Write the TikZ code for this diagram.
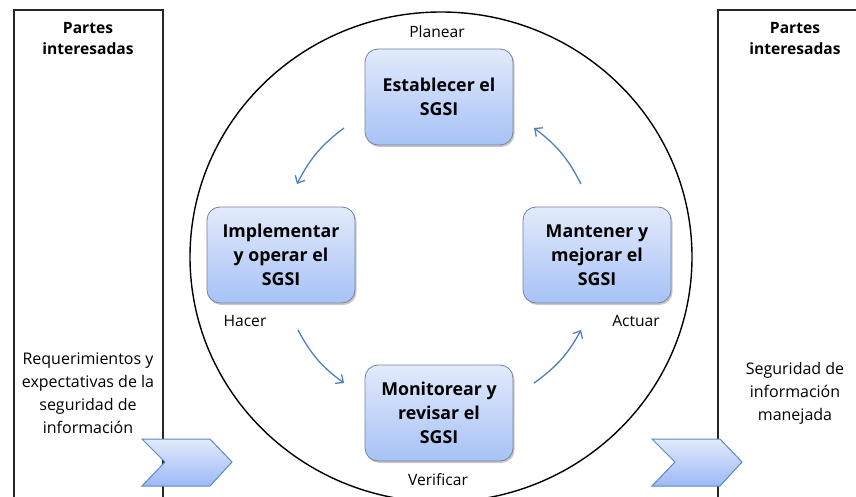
\documentclass[tikz,border=0pt]{standalone}
\usepackage{fontspec}
\setmainfont{Open Sans}
\usetikzlibrary{shadows,arrows.meta}
\definecolor{boxtop}{HTML}{E2EAFC}
\definecolor{boxbot}{HTML}{A6C2F6}
\definecolor{boxline}{HTML}{75849C}
\definecolor{flow}{HTML}{4F81BD}
\definecolor{chevline}{HTML}{5A8AC6}
\tikzset{
  stage/.style={draw=boxline, line width=0.8pt, rounded corners=13pt,
    top color=boxtop, bottom color=boxbot,
    minimum width=148pt, minimum height=96pt, align=center,
    font=\fontsize{17.8}{24}\selectfont\bfseries,
    drop shadow={shadow xshift=1.5pt, shadow yshift=-2pt, opacity=0.35, fill=black!60}},
  phase/.style={font=\fontsize{15.6}{20}\selectfont},
  note/.style={font=\fontsize{16}{23}\selectfont, align=center},
  head/.style={font=\fontsize{15.6}{21}\selectfont\bfseries, align=center},
  panel/.style={draw=black!85, line width=1.2pt},
  cycle/.style={draw=flow, line width=1.3pt, -{Straight Barb[length=6pt,width=11pt]}, bend right=13},
  chevron/.style={draw=chevline, line width=1pt, top color=boxtop, bottom color=boxbot!95!blue}
}
\begin{document}
\begin{tikzpicture}[x=1pt,y=-1pt]
\useasboundingbox (0,0) rectangle (856,497);
\fill[white] (0,0) rectangle (856,497);

% interested parties, left and right
\draw[panel] (14,510) -- (14,10) -- (163,10) -- (163,510);
\draw[panel] (718,510) -- (718,10) -- (870,10);
\node[head] (lhead) at (88,39) {Partes\\interesadas};
\node[head] (rhead) at (795,39) {Partes\\interesadas};
\node[note] (lnote) at (88,393) {Requerimientos y\\expectativas de la\\seguridad de\\información};
\node[note] (rnote) at (795,393) {Seguridad de\\información\\manejada};

% PDCA ring
\draw[black, line width=1.4pt] (441,257) ellipse [x radius=251, y radius=245];

% the four stages
\node[stage] (plan) at (439,97) {Establecer el\\SGSI};
\node[stage] (do) at (281,255) {Implementar\\y operar el\\SGSI};
\node[stage] (check) at (439,413) {Monitorear y\\revisar el\\SGSI};
\node[stage] (act) at (597,255) {Mantener y\\mejorar el\\SGSI};

\node[phase] (lplan) at (437,32) {Planear};
\node[phase] (ldo) at (245,321) {Hacer};
\node[phase] (lact) at (636,321) {Actuar};
\node[phase] (lcheck) at (438,480) {Verificar};

% cycle arrows
\coordinate (a1) at (344,128);
\coordinate (b1) at (297,184);
\coordinate (a2) at (298,330);
\coordinate (b2) at (344,383);
\coordinate (a3) at (534,383);
\coordinate (b3) at (581,330);
\coordinate (a4) at (581,184);
\coordinate (b4) at (534,128);
\draw[cycle] (a1) to (b1);
\draw[cycle] (a2) to (b2);
\draw[cycle] (a3) to (b3);
\draw[cycle] (a4) to (b4);

% input and output chevrons
\draw[chevron] (142,439) -- (210,439) -- (232,462) -- (210,486) -- (142,486) -- (165,462) -- cycle;
\draw[chevron] (652,439) -- (720,439) -- (742,462) -- (720,486) -- (652,486) -- (675,462) -- cycle;
\end{tikzpicture}
\end{document}
